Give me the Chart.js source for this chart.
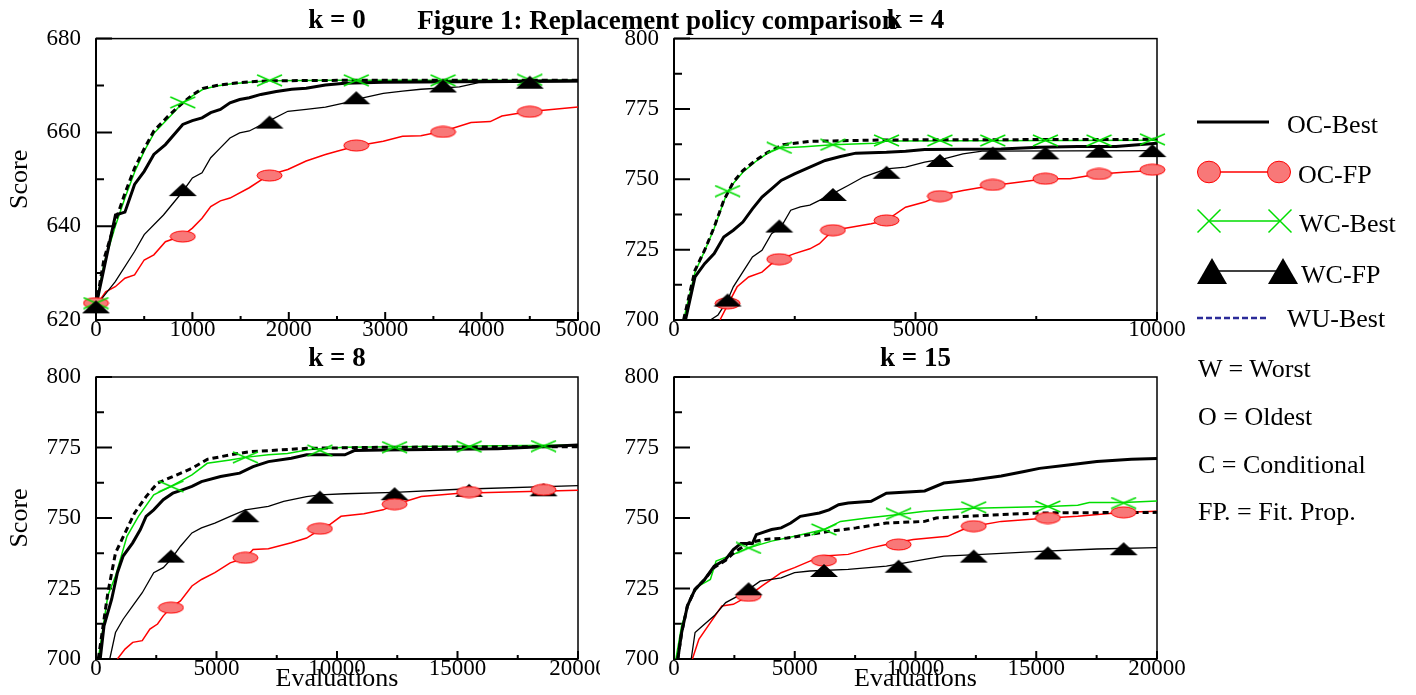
<!DOCTYPE html>
<html>
<head>
<meta charset="utf-8">
<script src="https://cdn.jsdelivr.net/npm/chart.js@4.4.1/dist/chart.umd.min.js"></script>
<style>
  body { margin: 0; background: #fff; width: 1416px; height: 695px; overflow: hidden; position: relative; }
  canvas { position: absolute; }
  #overlay { position: absolute; left: 0; top: 0; pointer-events: none; }
</style>
</head>
<body>
<canvas id="k0" width="600" height="345" style="left:0;top:0"></canvas>
<canvas id="k4" width="620" height="345" style="left:580px;top:0"></canvas>
<canvas id="k8" width="600" height="360" style="left:0;top:343px"></canvas>
<canvas id="k15" width="620" height="360" style="left:580px;top:343px"></canvas>

<svg id="overlay" width="1416" height="695" font-family="Liberation Serif, Times New Roman, serif" font-size="26">
  <text x="657" y="29" font-size="27" font-weight="bold" text-anchor="middle">Figure 1: Replacement policy comparison</text>

  <line x1="1197" y1="122" x2="1269" y2="122" stroke="#000" stroke-width="3"/>
  <text x="1287" y="133">OC-Best</text>

  <line x1="1209" y1="172" x2="1279" y2="172" stroke="#ff0000" stroke-width="1.5"/>
  <ellipse cx="1209" cy="172" rx="11.5" ry="10.8" fill="#f87878" stroke="#ff0000"/>
  <ellipse cx="1279" cy="172" rx="11.5" ry="10.8" fill="#f87878" stroke="#ff0000"/>
  <text x="1298" y="183">OC-FP</text>

  <line x1="1209" y1="221" x2="1280" y2="221" stroke="#00dd00" stroke-width="1.5"/>
  <path d="M1197.5 209.5 L1220.5 232.5 M1220.5 209.5 L1197.5 232.5 M1268.5 209.5 L1291.5 232.5 M1291.5 209.5 L1268.5 232.5" stroke="#00dd00" stroke-width="1.5"/>
  <text x="1299" y="232">WC-Best</text>

  <line x1="1212" y1="271" x2="1283" y2="271" stroke="#000" stroke-width="1.5"/>
  <polygon points="1212,258 1227,284 1197,284" fill="#000"/>
  <polygon points="1283,258 1298,284 1268,284" fill="#000"/>
  <text x="1301" y="283">WC-FP</text>

  <line x1="1197" y1="318" x2="1269" y2="318" stroke="#2b2b99" stroke-width="2.5" stroke-dasharray="6 3"/>
  <text x="1287" y="327">WU-Best</text>

  <text x="1198" y="377">W = Worst</text>
  <text x="1198" y="425">O = Oldest</text>
  <text x="1198" y="473">C = Conditional</text>
  <text x="1198" y="520">FP. = Fit. Prop.</text>
</svg>

<script>
// ---- k = 0 ----
const k0OcBestX = [0, 83, 202, 300, 400, 500, 600, 720, 900, 1000, 1100, 1190, 1290, 1390, 1490, 1590, 1710, 1870, 2030, 2180, 2380, 2580, 2980, 3770, 5000];
const k0OcBestY = [623, 631, 642.4, 643, 648.9, 651.7, 655.3, 657.4, 661.7, 662.5, 663.1, 664.2, 664.9, 666.3, 667, 667.4, 668.1, 668.7, 669.2, 669.4, 670.1, 670.5, 670.7, 670.8, 671];
const k0WuBestX = [0, 83, 200, 300, 400, 500, 600, 750, 900, 1000, 1110, 1250, 1390, 1590, 1790, 2500, 5000];
const k0WuBestY = [623, 633, 641, 647, 652.4, 656.5, 660.3, 663.5, 666.3, 668, 669.4, 670, 670.4, 670.8, 671, 671.1, 671.1];
const k0WcBestX = [0, 83, 200, 300, 400, 500, 600, 750, 900, 1000, 1110, 1250, 1390, 1590, 1790, 2500, 5000];
const k0WcBestY = [623, 632, 640, 646, 651.5, 656, 659.8, 663, 666.3, 667.8, 669.2, 669.9, 670.3, 670.7, 671, 671.1, 671.1];
const k0WcFpX = [0, 200, 400, 500, 700, 900, 1000, 1100, 1190, 1290, 1390, 1490, 1590, 1790, 1990, 2180, 2380, 2580, 2780, 2980, 3180, 3370, 3770, 3970, 5000];
const k0WcFpY = [623, 628.2, 634.6, 638.2, 642.4, 647.4, 650.3, 651.4, 654.6, 656.7, 658.8, 659.9, 660.3, 662.4, 664.5, 664.9, 665.4, 666.3, 667.4, 668.3, 668.8, 669.2, 669.7, 670.6, 670.8];
const k0OcFpX = [0, 100, 200, 300, 400, 500, 600, 720, 900, 1000, 1100, 1190, 1290, 1390, 1590, 1790, 1990, 2180, 2380, 2500, 2700, 2980, 3180, 3370, 3610, 3890, 4090, 4210, 4480, 5000];
const k0OcFpY = [623, 626, 627.1, 628.9, 629.6, 632.8, 633.9, 636.7, 638, 639.6, 641.7, 644.2, 645.4, 646, 648.2, 650.9, 652.1, 653.9, 655.3, 656, 657.1, 658.1, 659.2, 659.3, 660.3, 662.1, 662.3, 663.5, 664.4, 665.4];
const k0MarkX = [0, 900, 1800, 2700, 3600, 4500];
const k0OcFpMarks = [623.6, 637.8, 650.8, 657.2, 660.1, 664.4];
const k0WcBestMarks = [623.6, 666.4, 671.1, 671.1, 671.1, 671.2];
const k0WcFpMarks = [622.8, 647.8, 662.2, 667.4, 669.9, 670.7];

// ---- k = 4 ----
const k4OcBestX = [238, 435, 634, 832, 1030, 1228, 1426, 1624, 1822, 2020, 2219, 2496, 2813, 3130, 3447, 3764, 4398, 4794, 5190, 6775, 7567, 8360, 9152, 10000];
const k4OcBestY = [700, 715.3, 720, 723.6, 729.5, 731.9, 734.8, 739.5, 743.7, 746.6, 749.6, 751.9, 754.3, 756.7, 758.1, 759.3, 759.6, 760, 760.6, 760.8, 761.4, 761.7, 761.7, 762.8];
const k4WuBestX = [198, 435, 634, 832, 1030, 1228, 1426, 1704, 1941, 2258, 2813, 4398, 10000];
const k4WuBestY = [700, 717.7, 724.8, 733, 742.5, 749, 753.1, 756.9, 759.6, 762.3, 763.5, 764, 764.2];
const k4WcBestX = [198, 435, 634, 832, 1030, 1109, 1228, 1426, 1704, 1941, 2180, 2700, 3290, 4160, 4400, 10000];
const k4WcBestY = [700, 717, 724.5, 732.5, 742, 745.5, 748.5, 752.5, 756.5, 759.3, 761.1, 761.6, 762.3, 762.8, 763.6, 763.9];
const k4WcFpX = [753, 911, 1109, 1228, 1426, 1624, 1822, 2020, 2219, 2417, 2615, 2813, 3011, 3288, 3605, 3922, 4398, 4794, 5190, 5586, 5983, 6379, 10000];
const k4WcFpY = [700, 701.8, 707, 711.8, 717.1, 722.4, 724.8, 730.7, 733.1, 739, 740.2, 740.8, 742.5, 744.9, 747.8, 750.8, 753.7, 754.3, 756.1, 757.3, 759, 760, 760.2];
const k4OcFpX = [951, 1109, 1307, 1545, 1822, 2020, 2219, 2496, 2813, 3011, 3290, 3605, 4081, 4398, 4794, 5190, 5500, 5983, 6379, 6600, 7170, 7690, 8200, 8800, 9310, 9900, 10000];
const k4OcFpY = [700, 705.3, 711.8, 715.3, 717, 720, 721.8, 723.6, 725.3, 727.1, 731.9, 732.8, 734.2, 735.4, 740.1, 741.9, 744.3, 746, 747.2, 747.8, 749, 750.2, 750.2, 751.9, 752.5, 753.1, 753.2];
const k4MarkX = [1109, 2180, 3290, 4400, 5505, 6600, 7690, 8800, 9905];
const k4OcFpMarks = [705.9, 721.6, 731.9, 735.4, 744, 748, 750.2, 751.9, 753.4];
const k4WcBestMarks = [745.8, 761.2, 762.3, 763.8, 763.8, 763.8, 763.8, 763.8, 764.2];
const k4WcFpMarks = [707.1, 733.4, 744.6, 752.5, 756.7, 759.3, 759.4, 760, 760.2];

// ---- k = 8 ----
const k8OcBestX = [175, 333, 650, 888, 1126, 1523, 1840, 2078, 2395, 2791, 3188, 3584, 3981, 4377, 5170, 5963, 6518, 7153, 8105, 8739, 10325, 10721, 11911, 16669, 20000];
const k8OcBestY = [700, 711.8, 721.2, 730.6, 736.5, 741.2, 745.9, 750.6, 752.9, 756.5, 758.8, 760, 761.2, 762.9, 764.7, 765.9, 768.2, 770, 771.2, 772.4, 772.4, 773.9, 774.1, 774.6, 775.9];
const k8WuBestX = [95, 492, 809, 1205, 1602, 2078, 2554, 3188, 3981, 4615, 5567, 6360, 8739, 11911, 20000];
const k8WuBestY = [700, 723.5, 737.6, 744.7, 751.8, 757.6, 762.4, 764.7, 767.6, 770.8, 772.4, 773.5, 774.7, 775.1, 775.3];
const k8WcBestX = [95, 492, 809, 1285, 1761, 2395, 3110, 3981, 4615, 5567, 6200, 7153, 7946, 8739, 9290, 10325, 20000];
const k8WcBestY = [700, 722.5, 729.4, 743.5, 750.6, 758.2, 761.2, 765.3, 769.4, 770.6, 771.5, 772.4, 772.9, 774.1, 774.6, 775.1, 775.9];
const k8WcFpX = [571, 809, 1126, 1523, 1919, 2395, 2791, 3110, 3505, 3981, 4377, 4932, 5567, 6200, 7153, 7787, 8739, 9290, 10325, 12387, 15083, 20000];
const k8WcFpY = [700, 709.4, 714.1, 718.8, 723.5, 730.6, 732.4, 735.3, 740, 744.7, 746.5, 748.2, 750.6, 752.9, 754.1, 755.9, 757.6, 758.2, 758.6, 759.1, 760.2, 761.5];
const k8OcFpX = [888, 1205, 1523, 1919, 2236, 2554, 2791, 3110, 3505, 3981, 4377, 4932, 5567, 6200, 6518, 7153, 8105, 8739, 9290, 9686, 10166, 11118, 11911, 12387, 13497, 15083, 20000];
const k8OcFpY = [700, 703.5, 705.9, 706.5, 710.6, 712.4, 715.3, 718.2, 720.6, 725.9, 728.2, 730.6, 734.1, 735.9, 738.8, 739.1, 741.2, 742.9, 745.9, 747.6, 750.6, 751.5, 752.9, 754.7, 757.6, 758.8, 759.8];
const k8MarkX = [3110, 6200, 9290, 12390, 15480, 18570];
const k8OcFpMarks = [718.2, 735.9, 746.2, 754.9, 759.2, 760];
const k8WcBestMarks = [761.2, 771.5, 773.9, 775.1, 775.3, 775.5];
const k8WcFpMarks = [736.5, 750.8, 757.4, 758.6, 759.8, 760];

// ---- k = 15 ----
const k15OcBestX = [158, 317, 555, 872, 1268, 1664, 2140, 2456, 2774, 3249, 3407, 4041, 4437, 4833, 5230, 6022, 6418, 6815, 7211, 8162, 8796, 10380, 11173, 12361, 13550, 14501, 15134, 16323, 17512, 18938, 20000];
const k15OcBestY = [700, 709.4, 718.8, 724.7, 728.2, 732.9, 735.3, 738.8, 741, 741, 744.1, 745.9, 746.5, 748.2, 750.6, 751.8, 752.9, 754.7, 755.3, 755.9, 758.8, 759.6, 762.4, 763.5, 764.9, 766.5, 767.6, 768.8, 770, 770.8, 771.1];
const k15WuBestX = [158, 317, 555, 872, 1268, 1664, 2140, 2456, 3090, 3724, 4675, 5626, 6418, 7528, 8796, 10380, 10856, 13550, 15134, 20000];
const k15WuBestY = [700, 709.4, 718.8, 724.7, 728.2, 732.5, 735, 737.5, 741.2, 742.4, 742.9, 744.1, 745.3, 746.5, 748.2, 748.8, 750, 751.2, 751.8, 752];
const k15WcBestX = [79, 317, 713, 1030, 1506, 1743, 2456, 3090, 4041, 4992, 6212, 6894, 8003, 9303, 10380, 12409, 15483, 16719, 17194, 18620, 20000];
const k15WcBestY = [700, 711.8, 722.4, 725.9, 728.2, 734.7, 737.1, 739.4, 741.8, 743.5, 745.9, 748.8, 750, 751.2, 752.4, 753.5, 754.1, 754.5, 755.5, 755.5, 756];
const k15WcFpX = [713, 872, 1189, 1664, 2140, 2774, 3090, 3566, 4437, 4992, 5626, 7211, 8796, 10380, 11173, 12757, 15134, 17512, 20000];
const k15WcFpY = [700, 709.4, 711.8, 715.3, 720, 722.9, 724.7, 727.6, 728.8, 730.6, 731.2, 731.8, 732.9, 735.3, 736.5, 737.1, 738.2, 739, 739.5];
const k15OcFpX = [761, 1030, 1506, 1981, 2456, 3090, 3645, 4041, 4437, 4992, 5626, 6212, 7211, 8162, 8796, 9905, 11331, 11965, 12409, 13550, 15483, 16719, 18620, 20000];
const k15OcFpY = [700, 707, 712.9, 718.8, 719.4, 722.4, 725.9, 728.2, 730.6, 732.4, 734.7, 736.5, 737.1, 739.4, 740.6, 742.4, 743.5, 745.9, 747.1, 748.8, 750, 750.6, 752, 752.4];
const k15MarkX = [3090, 6210, 9300, 12410, 15480, 18620];
const k15OcFpMarks = [722.4, 734.9, 740.6, 747.1, 750, 752];
const k15WcBestMarks = [739.4, 745.9, 751.5, 753.8, 754.1, 755.3];
const k15WcFpMarks = [724.9, 731.4, 732.9, 736.5, 737.6, 739.1];

const SERIF = 'Liberation Serif, Times New Roman, serif';
const RED = '#ff0000';
const GREEN = '#00dd00';

// little bitmaps for the (flattened) plot markers
function markCanvas(w, h, draw) {
    const c = document.createElement('canvas');
    c.width = w;
    c.height = h;
    draw(c.getContext('2d'));
    return c;
}
const ellipseMark = markCanvas(27, 13, g => {
    g.beginPath();
    g.ellipse(13.5, 6.5, 12.5, 5.5, 0, 0, Math.PI * 2);
    g.fillStyle = '#f87878';
    g.fill();
    g.strokeStyle = RED;
    g.lineWidth = 1;
    g.stroke();
});
const triMark = markCanvas(30, 15, g => {
    g.beginPath();
    g.moveTo(15, 1);
    g.lineTo(29, 14);
    g.lineTo(1, 14);
    g.closePath();
    g.fillStyle = '#000';
    g.fill();
});
const crossMark = markCanvas(27, 13, g => {
    g.strokeStyle = GREEN;
    g.lineWidth = 1.5;
    g.beginPath();
    g.moveTo(1, 1); g.lineTo(26, 12);
    g.moveTo(26, 1); g.lineTo(1, 12);
    g.stroke();
});

const pts = (xs, ys) => xs.map((x, i) => ({ x: x, y: ys[i] }));

function line(xs, ys, color, width, dash, order) {
    return {
        data: pts(xs, ys),
        borderColor: color,
        borderWidth: width,
        borderDash: dash,
        pointRadius: 0,
        tension: 0,
        fill: false,
        order: order
    };
}

function marks(xs, ys, style, order) {
    return {
        data: pts(xs, ys),
        showLine: false,
        pointStyle: style,
        pointRadius: 12,
        clip: false,
        order: order
    };
}

// box around the plot + inward ticks (major and half-step minor)
const framePlugin = {
    id: 'frame',
    beforeDatasetsDraw(chart) {
        const { ctx, chartArea: a, scales: { x, y } } = chart;
        ctx.save();
        ctx.strokeStyle = '#000';
        ctx.lineWidth = 1.5;
        ctx.strokeRect(a.left, a.top, a.right - a.left, a.bottom - a.top);
        ctx.lineWidth = 2;
        ctx.beginPath();
        ctx.moveTo(a.left, a.top);
        ctx.lineTo(a.left, a.bottom);
        ctx.lineTo(a.right, a.bottom);
        const yt = y.ticks.map(t => t.value);
        yt.forEach((v, i) => {
            const p = y.getPixelForValue(v);
            ctx.moveTo(a.left, p);
            ctx.lineTo(a.left + 16, p);
            if (i < yt.length - 1) {
                const m = y.getPixelForValue((v + yt[i + 1]) / 2);
                ctx.moveTo(a.left, m);
                ctx.lineTo(a.left + 8, m);
            }
        });
        const xt = x.ticks.map(t => t.value);
        xt.forEach((v, i) => {
            const p = x.getPixelForValue(v);
            ctx.moveTo(p, a.bottom);
            ctx.lineTo(p, a.bottom - 8);
            if (i < xt.length - 1) {
                const m = x.getPixelForValue((v + xt[i + 1]) / 2);
                ctx.moveTo(m, a.bottom);
                ctx.lineTo(m, a.bottom - 4);
            }
        });
        ctx.stroke();
        ctx.restore();
    }
};

function panel(id, p) {
    const triOrder = p.circlesOnTop ? 2 : 0;
    new Chart(document.getElementById(id), {
        type: 'line',
        data: {
            datasets: [
                marks(p.markX, p.wcBest, crossMark, 1),
                marks(p.markX, p.ocFp, ellipseMark, 1),
                marks(p.markX, p.wcFp, triMark, triOrder),
                line(p.wuBestX, p.wuBestY, '#000', 3, [6, 4], 3),
                line(p.ocBestX, p.ocBestY, '#000', 3, [], 4),
                line(p.wcBestX, p.wcBestY, GREEN, 1.5, [], 5),
                line(p.wcFpX, p.wcFpY, '#000', 1.3, [], 6),
                line(p.ocFpX, p.ocFpY, RED, 1.5, [], 7)
            ]
        },
        options: {
            responsive: false,
            animation: false,
            events: [],
            layout: { padding: { left: 0, right: p.padRight, top: 0, bottom: 0 } },
            plugins: {
                legend: { display: false },
                tooltip: { enabled: false },
                title: {
                    display: true,
                    text: p.title,
                    fullSize: false,
                    color: '#000',
                    font: { family: SERIF, size: 27, weight: 'bold', lineHeight: 1.2 },
                    padding: { top: p.titleTop, bottom: p.titleBottom }
                }
            },
            scales: {
                x: {
                    type: 'linear',
                    min: 0,
                    max: p.xMax,
                    ticks: {
                        stepSize: p.xStep,
                        autoSkip: false,
                        maxRotation: 0,
                        padding: -1.5,
                        color: '#000',
                        font: { family: SERIF, size: 23, lineHeight: 1 },
                        callback: v => String(v)
                    },
                    grid: { display: false, drawTicks: false },
                    border: { display: false },
                    title: {
                        display: p.xTitle,
                        text: 'Evaluations',
                        color: '#000',
                        font: { family: SERIF, size: 26, lineHeight: 1.2 },
                        padding: { top: 0, bottom: 8.4 }
                    },
                    afterFit: s => { s.height = p.xHeight; s.paddingLeft = 0; s.paddingRight = 0; }
                },
                y: {
                    min: p.yMin,
                    max: p.yMax,
                    ticks: {
                        stepSize: p.yStep,
                        padding: 15,
                        color: '#000',
                        font: { family: SERIF, size: 23, lineHeight: 1 },
                        callback: v => String(v)
                    },
                    grid: { display: false, drawTicks: false },
                    border: { display: false },
                    title: {
                        display: p.yTitle,
                        text: 'Score',
                        color: '#000',
                        font: { family: SERIF, size: 26, lineHeight: 1.2 },
                        padding: { top: 4.3, bottom: 0 }
                    },
                    afterFit: s => { s.width = p.yWidth; s.paddingTop = 0; s.paddingBottom = 0; }
                }
            }
        },
        plugins: [framePlugin]
    });
}

const topRow = { titleTop: 5.1, titleBottom: 1.1, xHeight: 25, xTitle: false };
const bottomRow = { titleTop: 0.1, titleBottom: 1.5, xHeight: 44, xTitle: true };

panel('k0', Object.assign({}, topRow, {
    title: 'k = 0', yTitle: true, yWidth: 96, padRight: 22,
    xMax: 5000, xStep: 1000, yMin: 620, yMax: 680, yStep: 20,
    ocBestX: k0OcBestX, ocBestY: k0OcBestY, wuBestX: k0WuBestX, wuBestY: k0WuBestY,
    wcBestX: k0WcBestX, wcBestY: k0WcBestY, wcFpX: k0WcFpX, wcFpY: k0WcFpY,
    ocFpX: k0OcFpX, ocFpY: k0OcFpY,
    markX: k0MarkX, ocFp: k0OcFpMarks, wcBest: k0WcBestMarks, wcFp: k0WcFpMarks
}));

panel('k4', Object.assign({}, topRow, {
    title: 'k = 4', yTitle: false, yWidth: 94, padRight: 43,
    xMax: 10000, xStep: 5000, yMin: 700, yMax: 800, yStep: 25,
    ocBestX: k4OcBestX, ocBestY: k4OcBestY, wuBestX: k4WuBestX, wuBestY: k4WuBestY,
    wcBestX: k4WcBestX, wcBestY: k4WcBestY, wcFpX: k4WcFpX, wcFpY: k4WcFpY,
    ocFpX: k4OcFpX, ocFpY: k4OcFpY,
    markX: k4MarkX, ocFp: k4OcFpMarks, wcBest: k4WcBestMarks, wcFp: k4WcFpMarks
}));

panel('k8', Object.assign({}, bottomRow, {
    title: 'k = 8', yTitle: true, yWidth: 96, padRight: 22, circlesOnTop: true,
    xMax: 20000, xStep: 5000, yMin: 700, yMax: 800, yStep: 25,
    ocBestX: k8OcBestX, ocBestY: k8OcBestY, wuBestX: k8WuBestX, wuBestY: k8WuBestY,
    wcBestX: k8WcBestX, wcBestY: k8WcBestY, wcFpX: k8WcFpX, wcFpY: k8WcFpY,
    ocFpX: k8OcFpX, ocFpY: k8OcFpY,
    markX: k8MarkX, ocFp: k8OcFpMarks, wcBest: k8WcBestMarks, wcFp: k8WcFpMarks
}));

panel('k15', Object.assign({}, bottomRow, {
    title: 'k = 15', yTitle: false, yWidth: 94, padRight: 43,
    xMax: 20000, xStep: 5000, yMin: 700, yMax: 800, yStep: 25,
    ocBestX: k15OcBestX, ocBestY: k15OcBestY, wuBestX: k15WuBestX, wuBestY: k15WuBestY,
    wcBestX: k15WcBestX, wcBestY: k15WcBestY, wcFpX: k15WcFpX, wcFpY: k15WcFpY,
    ocFpX: k15OcFpX, ocFpY: k15OcFpY,
    markX: k15MarkX, ocFp: k15OcFpMarks, wcBest: k15WcBestMarks, wcFp: k15WcFpMarks
}));
</script>
</body>
</html>
